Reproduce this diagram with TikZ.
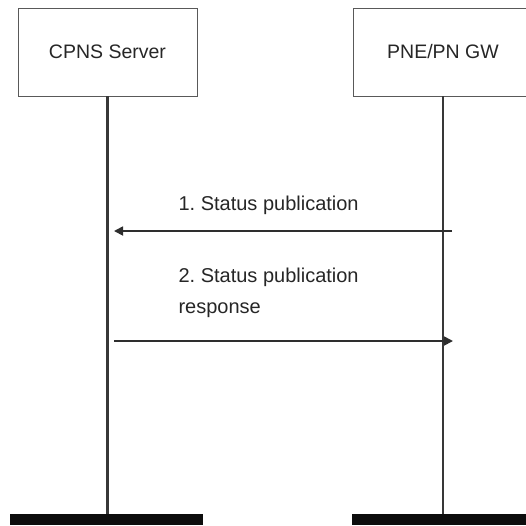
\documentclass[tikz,border=0pt]{standalone}
\usepackage{fontspec}
\setmainfont{Liberation Sans}
\usetikzlibrary{arrows.meta}

\begin{document}
\frenchspacing
\begin{tikzpicture}[x=1pt, y=-1pt, line join=miter,
  entity/.style={draw=black!65, line width=0.9pt, minimum width=179pt, minimum height=88pt,
    inner sep=0pt, text=black!85, font=\fontsize{19.5}{23}\selectfont},
  lifeline/.style={draw=black!78, line width=2.2pt},
  msg/.style={draw=black!82, line width=1.7pt, -{Triangle[length=9pt, width=9pt]}},
  msglabel/.style={anchor=west, align=left, text=black!85, font=\fontsize{20}{31.5}\selectfont}]

  % ── the two entities at the top ──
  \node[entity] (cpns) at (107.5,52) {CPNS Server};
  \node[entity] (pne)  at (443,52)   {PNE/PN GW};

  % ── lifelines down to the thick bars ──
  \coordinate (cpnsEnd) at (107.5,514);
  \coordinate (pneEnd)  at (443,514);
  \draw[lifeline] (cpns.south) -- (cpnsEnd);
  \draw[lifeline] (pne.south)  -- (pneEnd);

  % ── bars at the foot of each lifeline ──
  \fill[black!95] (10,514) rectangle (203,525);
  \fill[black!95] (352,514) rectangle (530,525);

  % ── message 1: PNE/PN GW -> CPNS Server ──
  \coordinate (m1from) at (452,231);
  \coordinate (m1to)   at (114,231);
  \draw[msg] (m1from) -- (m1to);
  \node[msglabel] (m1label) at (175,205) {1. Status publication};

  % ── message 2: CPNS Server -> PNE/PN GW ──
  \coordinate (m2from) at (114,341);
  \coordinate (m2to)   at (453,341);
  \draw[msg] (m2from) -- (m2to);
  \node[msglabel] (m2label) at (175,293) {2. Status publication\\response};

  % pin the canvas to the reference size
  \pgfresetboundingbox
  \path[use as bounding box] (0,0) rectangle (526,525);
\end{tikzpicture}
\end{document}
